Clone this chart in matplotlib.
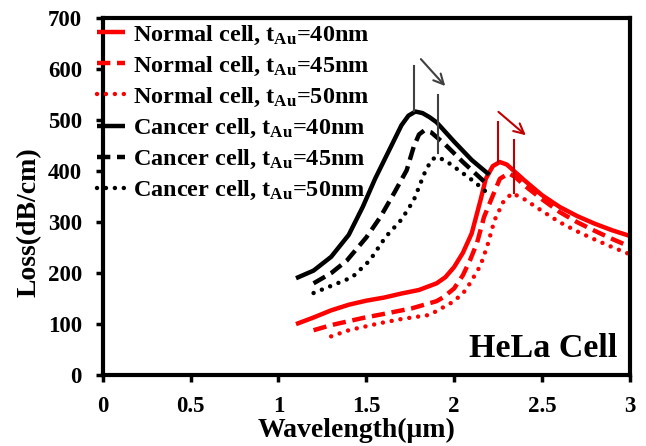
import matplotlib
matplotlib.use("Agg")
import matplotlib.pyplot as plt

plt.rcParams['font.family'] = ['Liberation Serif', 'DejaVu Serif']
plt.rcParams['font.weight'] = 'bold'
plt.rcParams['mathtext.fontset'] = 'custom'
plt.rcParams['mathtext.rm'] = 'Liberation Serif:bold'
plt.rcParams['mathtext.it'] = 'Liberation Serif:bold'
plt.rcParams['mathtext.bf'] = 'Liberation Serif:bold'

# Cancer cell curves
cancer40_x = [1.1, 1.2, 1.3, 1.4, 1.48, 1.55, 1.63, 1.7, 1.74, 1.78, 1.82, 1.86, 1.9, 2.0, 2.1, 2.2]
cancer40_y = [190, 205, 232, 275, 330, 385, 441, 490, 509, 517, 514, 506, 496, 458, 422, 393]
cancer45_x = [1.2, 1.3, 1.39, 1.5, 1.58, 1.66, 1.73, 1.77, 1.8, 1.83, 1.87, 1.95, 2.05, 2.17]
cancer45_y = [180, 200, 225, 270, 310, 358, 402, 448, 472, 480, 476, 452, 418, 380]
cancer50_x = [1.2, 1.3, 1.42, 1.52, 1.61, 1.7, 1.77, 1.83, 1.87, 1.9, 1.95, 2.05, 2.12, 2.19]
cancer50_y = [161, 175, 192, 225, 271, 305, 343, 395, 422, 428, 421, 396, 378, 357]

# Normal cell curves
normal40_x = [1.1, 1.2, 1.3, 1.4, 1.5, 1.6, 1.7, 1.8, 1.9, 1.95, 2.0, 2.05, 2.1, 2.15, 2.18, 2.22, 2.26, 2.3, 2.4, 2.5, 2.6, 2.7, 2.8, 2.9, 3.0]
normal40_y = [100, 113, 127, 138, 146, 152, 160, 167, 180, 192, 212, 240, 278, 343, 385, 410, 418, 413, 382, 353, 330, 312, 297, 284, 273]
normal45_x = [1.2, 1.3, 1.48, 1.6, 1.76, 1.9, 1.94, 2.0, 2.05, 2.09, 2.13, 2.17, 2.22, 2.26, 2.31, 2.35, 2.4, 2.5, 2.6, 2.7, 2.8, 2.9, 3.0]
normal45_y = [88, 98, 112, 120, 131, 145, 153, 170, 196, 225, 259, 310, 352, 385, 396, 388, 372, 345, 320, 300, 283, 267, 252]
normal50_x = [1.3, 1.4, 1.58, 1.7, 1.86, 1.99, 2.05, 2.09, 2.15, 2.19, 2.23, 2.28, 2.33, 2.4, 2.5, 2.6, 2.7, 2.8, 2.9, 3.0]
normal50_y = [76, 88, 102, 110, 118, 143, 160, 180, 215, 255, 304, 340, 357, 345, 322, 300, 282, 266, 251, 237]

labels = ["Normal cell, t$_{Au}$=40nm", "Normal cell, t$_{Au}$=45nm", "Normal cell, t$_{Au}$=50nm",
          "Cancer cell, t$_{Au}$=40nm", "Cancer cell, t$_{Au}$=45nm", "Cancer cell, t$_{Au}$=50nm"]

xticks = [0, 0.5, 1, 1.5, 2, 2.5, 3]
xticklabels = ["0", "0.5", "1", "1.5", "2", "2.5", "3"]
yticks = [0, 100, 200, 300, 400, 500, 600, 700]

# marker lines at peaks: (x, y_bottom, y_top)
black_marks = [(1.77, 518, 606), (1.91, 435, 549)]
red_marks = [(2.25, 418, 496), (2.34, 357, 461)]
black_arrow = ((1.80, 624), (1.96, 563))
red_arrow = ((2.24, 520), (2.42, 467))

fig = plt.figure(figsize=(6.46, 4.46), dpi=100)
ax = fig.add_axes([0.159, 0.159, 0.816, 0.80])

lw = 3.2
dash = (0, (3, 1.5))
dot = (0, (0.01, 2.0))
red = '#ff0000'
ax.plot(normal40_x, normal40_y, color=red, lw=lw, ls='-', solid_capstyle='butt', label=labels[0])
ax.plot(normal45_x, normal45_y, color=red, lw=lw, ls=dash, label=labels[1])
ax.plot(normal50_x, normal50_y, color=red, lw=lw, ls=dot, dash_capstyle='round', label=labels[2])
ax.plot(cancer40_x, cancer40_y, color='black', lw=lw, ls='-', solid_capstyle='butt', label=labels[3])
ax.plot(cancer45_x, cancer45_y, color='black', lw=lw, ls=dash, label=labels[4])
ax.plot(cancer50_x, cancer50_y, color='black', lw=lw, ls=dot, dash_capstyle='round', label=labels[5])

for x, y0, y1 in black_marks:
    ax.plot([x, x], [y0, y1], color='#404040', lw=1.5)
for x, y0, y1 in red_marks:
    ax.plot([x, x], [y0, y1], color='#c00000', lw=1.5)
ax.annotate('', xy=black_arrow[1], xytext=black_arrow[0],
            arrowprops=dict(arrowstyle='->', color='#404040', lw=1.5, mutation_scale=18))
ax.annotate('', xy=red_arrow[1], xytext=red_arrow[0],
            arrowprops=dict(arrowstyle='->', color='#c00000', lw=1.5, mutation_scale=18))

ax.set_xlim(0, 3)
ax.set_ylim(0, 700)
ax.set_xticks(xticks)
ax.set_xticklabels(xticklabels)
ax.set_yticks(yticks)
ax.tick_params(direction='out', length=5, width=2.5, labelsize=16.5)
ax.tick_params(axis='x', pad=10)
ax.tick_params(axis='y', pad=10)
for t in ax.get_xticklabels() + ax.get_yticklabels():
    t.set_fontweight('bold')
for s in ax.spines.values():
    s.set_linewidth(3)
ax.set_xlabel('Wavelength(μm)', fontsize=20, fontweight='bold', labelpad=1)
ax.set_ylabel('Loss(dB/cm)', fontsize=20, fontweight='bold', labelpad=4)
ax.xaxis.label.set_x(0.482)
ax.yaxis.label.set_y(0.43)

ax.text(2.93, 52, 'HeLa Cell', fontsize=24.5, fontweight='bold', ha='right', va='center')

leg = ax.legend(loc='upper left', bbox_to_anchor=(-0.011, 0.985), frameon=False,
                fontsize=17.5, handlelength=1.15, handletextpad=0.35, labelspacing=0.33,
                borderpad=0, borderaxespad=0)
for t in leg.get_texts():
    t.set_fontweight('bold')

fig.savefig('out.png', dpi=100)
